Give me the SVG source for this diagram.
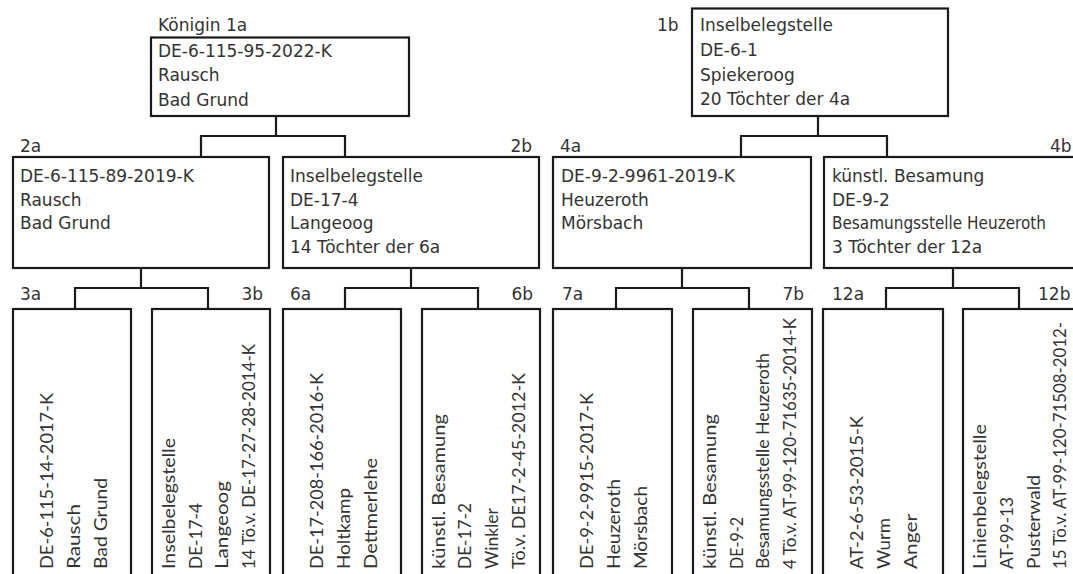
<svg xmlns="http://www.w3.org/2000/svg" width="1073" height="574" viewBox="0 0 1073 574">
<style>
.t{font-family:"DejaVu Sans",Verdana,sans-serif;font-size:17px;fill:#333}
.r{font-family:Lato,"Liberation Sans",sans-serif;font-size:17px;fill:#333}
.e{text-anchor:end}
.box{fill:#fff;stroke:#1a1a1a;stroke-width:2.2}
.con{fill:none;stroke:#1a1a1a;stroke-width:2.2}
</style>
<rect width="1073" height="574" fill="#fff"/>
<g id="connectors">
<path class="con" d="M276 116 V136 M201 157 V136 H345 V157"/>
<path class="con" d="M818 116 V136 M741 157 V136 H887 V157"/>
<path class="con" d="M141 268 V288 M75 309 V288 H208 V309"/>
<path class="con" d="M411 268 V288 M345 309 V288 H478 V309"/>
<path class="con" d="M682 268 V288 M616 309 V288 H749 V309"/>
<path class="con" d="M953 268 V288 M886 309 V288 H1019 V309"/>
</g>
<g id="n1a">
<text class="t" x="158" y="31">Königin 1a</text>
<rect class="box" x="151" y="37.5" width="258" height="78.5"/>
<text class="t" x="158" y="57">DE-6-115-95-2022-K</text>
<text class="t" x="158" y="81">Rausch</text>
<text class="t" x="158" y="106">Bad Grund</text>
</g>
<g id="n1b">
<text class="t" x="657" y="31">1b</text>
<rect class="box" x="692" y="8.5" width="256" height="107.5"/>
<text class="t" x="700" y="31">Inselbelegstelle</text>
<text class="t" x="700" y="56">DE-6-1</text>
<text class="t" x="700" y="81">Spiekeroog</text>
<text class="t" x="700" y="105">20 Töchter der 4a</text>
</g>
<g id="n2a">
<text class="t" x="20" y="152">2a</text>
<rect class="box" x="13" y="157" width="256" height="111"/>
<text class="t" x="20" y="182">DE-6-115-89-2019-K</text>
<text class="t" x="20" y="205.5">Rausch</text>
<text class="t" x="20" y="229">Bad Grund</text>
</g>
<g id="n2b">
<text class="t e" x="532" y="152">2b</text>
<rect class="box" x="283" y="157" width="256" height="111"/>
<text class="t" x="290" y="182">Inselbelegstelle</text>
<text class="t" x="290" y="205.5">DE-17-4</text>
<text class="t" x="290" y="229">Langeoog</text>
<text class="t" x="290" y="252.5">14 Töchter der 6a</text>
</g>
<g id="n4a">
<text class="t" x="560" y="152">4a</text>
<rect class="box" x="553" y="157" width="258" height="111"/>
<text class="t" x="561" y="182">DE-9-2-9961-2019-K</text>
<text class="t" x="561" y="205.5">Heuzeroth</text>
<text class="t" x="561" y="229">Mörsbach</text>
</g>
<g id="n4b">
<text class="t" x="1050" y="152">4b</text>
<rect class="box" x="824" y="157" width="262" height="111"/>
<text class="t" x="832" y="182">künstl. Besamung</text>
<text class="t" x="832" y="205.5">DE-9-2</text>
<text class="t" x="832" y="229" textLength="214" lengthAdjust="spacingAndGlyphs">Besamungsstelle Heuzeroth</text>
<text class="t" x="832" y="252.5">3 Töchter der 12a</text>
</g>
<g id="n3a">
<text class="t" x="20" y="300">3a</text>
<rect class="box" x="13" y="309" width="118" height="300"/>
<text class="r" transform="translate(53,569) rotate(-90)" textLength="176" lengthAdjust="spacingAndGlyphs">DE-6-115-14-2017-K</text>
<text class="r" transform="translate(80,569) rotate(-90)" textLength="65" lengthAdjust="spacingAndGlyphs">Rausch</text>
<text class="r" transform="translate(107,569) rotate(-90)" textLength="91" lengthAdjust="spacingAndGlyphs">Bad Grund</text>
</g>
<g id="n3b">
<text class="t e" x="263" y="300">3b</text>
<rect class="box" x="152" y="309" width="118" height="300"/>
<text class="r" transform="translate(175,569) rotate(-90)" textLength="131" lengthAdjust="spacingAndGlyphs">Inselbelegstelle</text>
<text class="r" transform="translate(202,569) rotate(-90)" textLength="66" lengthAdjust="spacingAndGlyphs">DE-17-4</text>
<text class="r" transform="translate(228,569) rotate(-90)" textLength="88" lengthAdjust="spacingAndGlyphs">Langeoog</text>
<text class="r" transform="translate(255,569) rotate(-90)" textLength="225" lengthAdjust="spacingAndGlyphs">14 Tö.v. DE-17-27-28-2014-K</text>
</g>
<g id="n6a">
<text class="t" x="290" y="300">6a</text>
<rect class="box" x="283" y="309" width="118" height="300"/>
<text class="r" transform="translate(323,569) rotate(-90)" textLength="196" lengthAdjust="spacingAndGlyphs">DE-17-208-166-2016-K</text>
<text class="r" transform="translate(350,569) rotate(-90)" textLength="81" lengthAdjust="spacingAndGlyphs">Holtkamp</text>
<text class="r" transform="translate(377,569) rotate(-90)" textLength="111" lengthAdjust="spacingAndGlyphs">Dettmerlehe</text>
</g>
<g id="n6b">
<text class="t e" x="533" y="300">6b</text>
<rect class="box" x="422" y="309" width="118" height="300"/>
<text class="r" transform="translate(445,569) rotate(-90)" textLength="155" lengthAdjust="spacingAndGlyphs">künstl. Besamung</text>
<text class="r" transform="translate(471,569) rotate(-90)" textLength="66" lengthAdjust="spacingAndGlyphs">DE-17-2</text>
<text class="r" transform="translate(498,569) rotate(-90)" textLength="61" lengthAdjust="spacingAndGlyphs">Winkler</text>
<text class="r" transform="translate(525,569) rotate(-90)" textLength="196" lengthAdjust="spacingAndGlyphs">Tö.v. DE17-2-45-2012-K</text>
</g>
<g id="n7a">
<text class="t" x="562" y="300">7a</text>
<rect class="box" x="553" y="309" width="119" height="300"/>
<text class="r" transform="translate(593,569) rotate(-90)" textLength="176" lengthAdjust="spacingAndGlyphs">DE-9-2-9915-2017-K</text>
<text class="r" transform="translate(620,569) rotate(-90)" textLength="90" lengthAdjust="spacingAndGlyphs">Heuzeroth</text>
<text class="r" transform="translate(647,569) rotate(-90)" textLength="83" lengthAdjust="spacingAndGlyphs">Mörsbach</text>
</g>
<g id="n7b">
<text class="t e" x="804" y="300">7b</text>
<rect class="box" x="693" y="309" width="119" height="300"/>
<text class="r" transform="translate(716,569) rotate(-90)" textLength="155" lengthAdjust="spacingAndGlyphs">künstl. Besamung</text>
<text class="r" transform="translate(743,569) rotate(-90)" textLength="52" lengthAdjust="spacingAndGlyphs">DE-9-2</text>
<text class="r" transform="translate(769,569) rotate(-90)" textLength="216" lengthAdjust="spacingAndGlyphs">Besamungsstelle Heuzeroth</text>
<text class="r" transform="translate(796,569) rotate(-90)" textLength="251" lengthAdjust="spacingAndGlyphs">4 Tö.v. AT-99-120-71635-2014-K</text>
</g>
<g id="n12a">
<text class="t" x="832" y="300">12a</text>
<rect class="box" x="823" y="309" width="120" height="300"/>
<text class="r" transform="translate(863,569) rotate(-90)" textLength="153" lengthAdjust="spacingAndGlyphs">AT-2-6-53-2015-K</text>
<text class="r" transform="translate(890,569) rotate(-90)" textLength="51" lengthAdjust="spacingAndGlyphs">Wurm</text>
<text class="r" transform="translate(917,569) rotate(-90)" textLength="55" lengthAdjust="spacingAndGlyphs">Anger</text>
</g>
<g id="n12b">
<text class="t" x="1038" y="300">12b</text>
<rect class="box" x="963" y="309" width="120" height="300"/>
<text class="r" transform="translate(986,569) rotate(-90)" textLength="145" lengthAdjust="spacingAndGlyphs">Linienbelegstelle</text>
<text class="r" transform="translate(1013,569) rotate(-90)" textLength="72" lengthAdjust="spacingAndGlyphs">AT-99-13</text>
<text class="r" transform="translate(1040,569) rotate(-90)" textLength="94" lengthAdjust="spacingAndGlyphs">Pusterwald</text>
<text class="r" transform="translate(1066,569) rotate(-90)" textLength="247" lengthAdjust="spacingAndGlyphs">15 Tö.v. AT-99-120-71508-2012-</text>
</g>
</svg>
